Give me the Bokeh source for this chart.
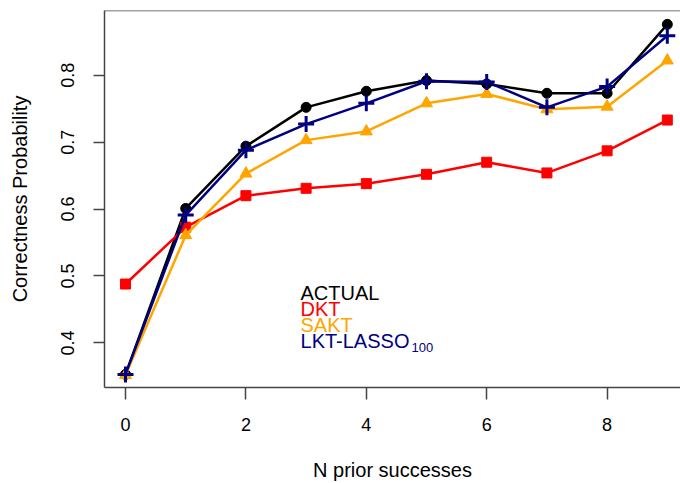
from bokeh.plotting import figure
from bokeh.models import FixedTicker, Label, Span
from bokeh.embed import file_html
from bokeh.resources import INLINE

# ---- data ----
n_prior = [0, 1, 2, 3, 4, 5, 6, 7, 8, 9]
actual = [0.353, 0.601, 0.694, 0.752, 0.776, 0.792, 0.787, 0.773, 0.773, 0.876]
dkt = [0.488, 0.573, 0.620, 0.631, 0.638, 0.652, 0.670, 0.654, 0.687, 0.733]
sakt = [0.352, 0.561, 0.653, 0.703, 0.716, 0.758, 0.772, 0.749, 0.753, 0.822]
lkt = [0.353, 0.591, 0.688, 0.727, 0.758, 0.791, 0.790, 0.752, 0.783, 0.859]

x_ticks = [0, 2, 4, 6, 8]
y_ticks = [0.4, 0.5, 0.6, 0.7, 0.8]
x_label = "N prior successes"
y_label = "Correctness Probability"
legend_names = ["ACTUAL", "DKT", "SAKT", "LKT-LASSO"]
legend_sub = "100"

FONT = "Liberation Sans"
BLACK, RED, ORANGE, NAVY = "#000000", "#FF0000", "#FFA500", "#000080"
AXIS = "#444444"

x_lo, x_hi = -0.349, 9.219
y_lo, y_hi = 0.3334, 0.8967

p = figure(width=680, height=483, x_range=(x_lo, x_hi), y_range=(y_lo, y_hi),
           output_backend="svg", toolbar_location=None,
           min_border_left=104, min_border_right=0, min_border_top=10,
           min_border_bottom=95)
p.outline_line_color = None
p.xgrid.visible = False
p.ygrid.visible = False
p.background_fill_color = "white"
p.border_fill_color = "white"

# top box edge
p.add_layout(Span(location=y_hi, dimension="width", line_color=AXIS, line_width=1.5))

for ax in (p.xaxis[0], p.yaxis[0]):
    ax.axis_line_color = AXIS
    ax.axis_line_width = 1.5
    ax.major_tick_line_color = AXIS
    ax.major_tick_line_width = 1.5
    ax.major_tick_in = 0
    ax.minor_tick_line_color = None
    ax.major_label_text_font = FONT
    ax.major_label_text_font_size = "18px"
    ax.major_label_text_color = "black"
    ax.axis_label_text_font = FONT
    ax.axis_label_text_font_size = "20px"
    ax.axis_label_text_font_style = "normal"
    ax.axis_label_text_color = "black"

p.xaxis[0].ticker = FixedTicker(ticks=x_ticks)
p.xaxis[0].major_tick_out = 12
p.xaxis[0].major_label_standoff = 18
p.xaxis[0].axis_label = x_label
p.xaxis[0].axis_label_standoff = 25

p.yaxis[0].ticker = FixedTicker(ticks=y_ticks)
p.yaxis[0].major_tick_out = 11
p.yaxis[0].major_label_orientation = "vertical"
p.yaxis[0].major_label_standoff = 19
p.yaxis[0].axis_label = y_label
p.yaxis[0].axis_label_standoff = 28

# series
p.line(n_prior, actual, line_color=BLACK, line_width=2.5)
p.scatter(n_prior, actual, marker="circle", size=10, fill_color=BLACK, line_color=BLACK)

p.line(n_prior, dkt, line_color=RED, line_width=2.5)
p.scatter(n_prior, dkt, marker="square", size=10, fill_color=RED, line_color=RED)

p.line(n_prior, sakt, line_color=ORANGE, line_width=2.5)
p.scatter(n_prior, sakt, marker="triangle", size=12, fill_color=ORANGE, line_color=ORANGE)

p.line(n_prior, lkt, line_color=NAVY, line_width=2.5)
p.scatter(n_prior, lkt, marker="cross", size=16, line_color=NAVY, line_width=3)

# text legend
leg_colors = [BLACK, RED, ORANGE, NAVY]
leg_x = 2.907
leg_y0 = 0.474
leg_step = 16.0 / 671.0
for i, (name, col) in enumerate(zip(legend_names, leg_colors)):
    p.add_layout(Label(x=leg_x, y=leg_y0 - i * leg_step, text=name, text_color=col,
                       text_font=FONT, text_font_size="20px", text_baseline="middle",
                       text_align="left"))
p.add_layout(Label(x=leg_x, y=leg_y0 - 3 * leg_step, text=legend_sub, text_color=NAVY,
                   text_font=FONT, text_font_size="13px", text_baseline="middle",
                   text_align="left", x_offset=111, y_offset=-6))

open("out.html", "w").write(file_html(p, INLINE))
